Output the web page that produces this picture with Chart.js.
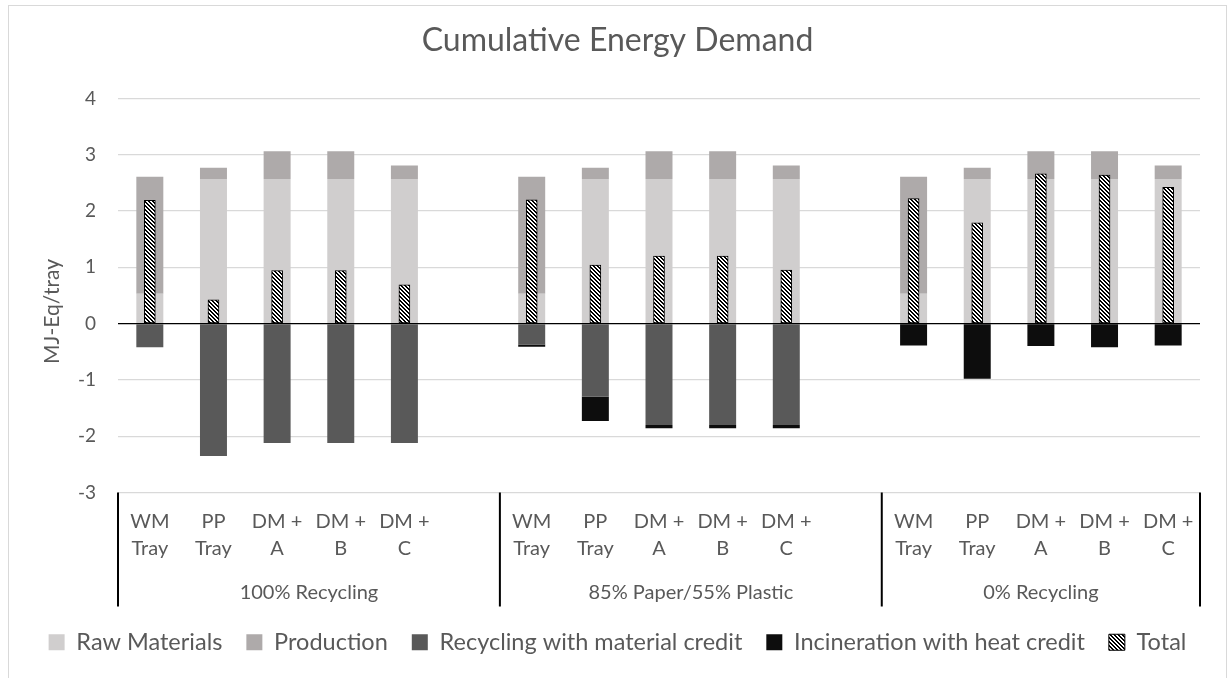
<!DOCTYPE html>
<html>
<head>
<meta charset="utf-8">
<script src="https://cdn.jsdelivr.net/npm/chart.js@4.4.1/dist/chart.umd.min.js"></script>
<style>
  html, body { margin: 0; padding: 0; background: #fff; overflow: hidden; }
  #frame { position: absolute; left: 8px; top: 5px; width: 1217px; height: 700px; border: 1px solid #d9d9d9; }
  #frame canvas { display: block; }
</style>
</head>
<body>
<div id="frame"><canvas id="ced" width="1217" height="666"></canvas></div>
<script>
// Recycling scenarios (outer category level) and tray designs (inner level)
const scenarios = ['100% Recycling', '85% Paper/55% Plastic', '0% Recycling'];
const trays = [['WM', 'Tray'], ['PP', 'Tray'], ['DM +', 'A'], ['DM +', 'B'], ['DM +', 'C']];

// MJ-Eq per tray, one value per tray in each scenario
const rawMaterials = [
  [0.53, 2.57, 2.57, 2.57, 2.57],
  [0.53, 2.57, 2.57, 2.57, 2.57],
  [0.53, 2.57, 2.57, 2.57, 2.57]
];
const production = [
  [2.08, 0.20, 0.49, 0.49, 0.24],
  [2.08, 0.20, 0.49, 0.49, 0.24],
  [2.08, 0.20, 0.49, 0.49, 0.24]
];
const recycling = [
  [-0.42, -2.35, -2.12, -2.12, -2.12],
  [-0.37, -1.30, -1.80, -1.80, -1.80],
  [null, null, null, null, null]
];
const incineration = [
  [null, null, null, null, null],
  [-0.04, -0.43, -0.06, -0.06, -0.06],
  [-0.39, -0.98, -0.40, -0.42, -0.39]
];
const totals = [
  [2.19, 0.42, 0.94, 0.94, 0.69],
  [2.20, 1.04, 1.20, 1.20, 0.95],
  [2.22, 1.79, 2.66, 2.64, 2.42]
];

const yTicks = { min: -3, max: 4, step: 1 };
const yTitle = 'MJ-Eq/tray';

const FONT = 'Lato';
const TEXT = '#595959';
Chart.defaults.font.family = FONT;
Chart.defaults.color = TEXT;

// Flatten groups into one category axis, with an empty slot between scenarios
const labels = [];
const groupIndex = [];
scenarios.forEach((s, gi) => {
  trays.forEach(t => { labels.push(t); groupIndex.push(gi); });
  if (gi < scenarios.length - 1) { labels.push(''); groupIndex.push(gi); }
});
function flatten(rows) {
  const out = [];
  rows.forEach((row, gi) => {
    row.forEach(v => out.push(v));
    if (gi < rows.length - 1) out.push(null);
  });
  return out;
}

const canvas = document.getElementById('ced');
const ctx = canvas.getContext('2d');

// Diagonal black/white hatch used for the Total bars
function makeHatch() {
  const n = 4;
  const tile = document.createElement('canvas');
  tile.width = n; tile.height = n;
  const g = tile.getContext('2d');
  const img = g.createImageData(n, n);
  for (let y = 0; y < n; y++) {
    for (let x = 0; x < n; x++) {
      const dark = ((x - y + 2 * n) % n) < n / 2;
      const i = (y * n + x) * 4;
      const c = dark ? 0 : 255;
      img.data[i] = c; img.data[i + 1] = c; img.data[i + 2] = c; img.data[i + 3] = 255;
    }
  }
  g.putImageData(img, 0, 0);
  return ctx.createPattern(tile, 'repeat');
}
const hatch = makeHatch();

// Outer category level: group separators and scenario names under the tray labels,
// plus the rotated value-axis title
const groupAxis = {
  id: 'groupAxis',
  afterDraw(chart) {
    const xs = chart.scales.x;
    const ys = chart.scales.y;
    const c = chart.ctx;
    const step = xs.getPixelForValue(1) - xs.getPixelForValue(0);
    c.save();
    c.strokeStyle = '#000';
    c.lineWidth = 2;
    c.fillStyle = TEXT;
    c.font = '20px ' + FONT;
    c.textAlign = 'center';
    c.textBaseline = 'middle';
    let lastRight = null;
    scenarios.forEach((name, gi) => {
      const first = groupIndex.indexOf(gi);
      const last = groupIndex.lastIndexOf(gi);
      const left = xs.getPixelForValue(first) - step / 2;
      const right = xs.getPixelForValue(last) + step / 2;
      c.beginPath();
      c.moveTo(left, xs.top);
      c.lineTo(left, xs.bottom);
      c.stroke();
      c.fillText(name, (left + right) / 2, xs.bottom - 14);
      lastRight = right;
    });
    c.beginPath();
    c.moveTo(lastRight, xs.top);
    c.lineTo(lastRight, xs.bottom);
    c.stroke();

    // value-axis title
    c.font = '21px ' + FONT;
    c.translate(ys.left + 43, (ys.top + ys.bottom) / 2 + 16);
    c.rotate(-Math.PI / 2);
    c.fillText(yTitle, 0, 0);
    c.restore();
  }
};

const barStyle = { stack: 'parts', categoryPercentage: 1, barPercentage: 0.424, borderWidth: 0 };

new Chart(ctx, {
  type: 'bar',
  data: {
    labels: labels,
    datasets: [
      Object.assign({ label: 'Raw Materials', data: flatten(rawMaterials), backgroundColor: '#d0cece' }, barStyle),
      Object.assign({ label: 'Production', data: flatten(production), backgroundColor: '#aeaaaa' }, barStyle),
      Object.assign({ label: 'Recycling with material credit', data: flatten(recycling), backgroundColor: '#595959' }, barStyle),
      Object.assign({ label: 'Incineration with heat credit', data: flatten(incineration), backgroundColor: '#0d0d0d' }, barStyle),
      {
        label: 'Total', data: flatten(totals), stack: 'total', grouped: false, order: -1,
        backgroundColor: hatch, borderColor: '#000', borderWidth: 1, borderSkipped: false, barThickness: 11
      }
    ]
  },
  options: {
    responsive: false,
    animation: false,
    devicePixelRatio: 1,
    layout: { padding: { left: 0, right: 0, top: 0, bottom: 8 } },
    plugins: {
      title: {
        display: true, text: 'Cumulative Energy Demand', color: TEXT,
        font: { family: FONT, size: 32, weight: 'normal' },
        padding: { top: 15, bottom: 39 }
      },
      legend: {
        position: 'bottom',
        labels: {
          color: TEXT, font: { family: FONT, size: 23.5 }, boxWidth: 16, boxHeight: 16, padding: 24,
          sort: (a, b) => a.datasetIndex - b.datasetIndex
        }
      },
      tooltip: { enabled: false }
    },
    scales: {
      x: {
        stacked: true,
        grid: { display: false, drawTicks: false },
        border: { display: false },
        ticks: { color: TEXT, font: { family: FONT, size: 20, lineHeight: 1.35 }, padding: 16, maxRotation: 0, autoSkip: false },
        afterFit(s) { s.height = 114; }
      },
      y: {
        stacked: true,
        min: yTicks.min, max: yTicks.max,
        ticks: { stepSize: yTicks.step, color: TEXT, font: { family: FONT, size: 19 }, padding: 22 },
        grid: {
          drawTicks: false,
          color: c => (c.tick && c.tick.value === 0 ? '#000' : '#d9d9d9'),
          lineWidth: 1.25
        },
        border: { display: false },
        afterFit(s) { s.width = 109; }
      },
      yRight: {
        type: 'linear', position: 'right', display: true,
        grid: { display: false }, border: { display: false }, ticks: { display: false },
        afterFit(s) { s.width = 26; }
      }
    }
  },
  plugins: [groupAxis]
});
</script>
</body>
</html>
